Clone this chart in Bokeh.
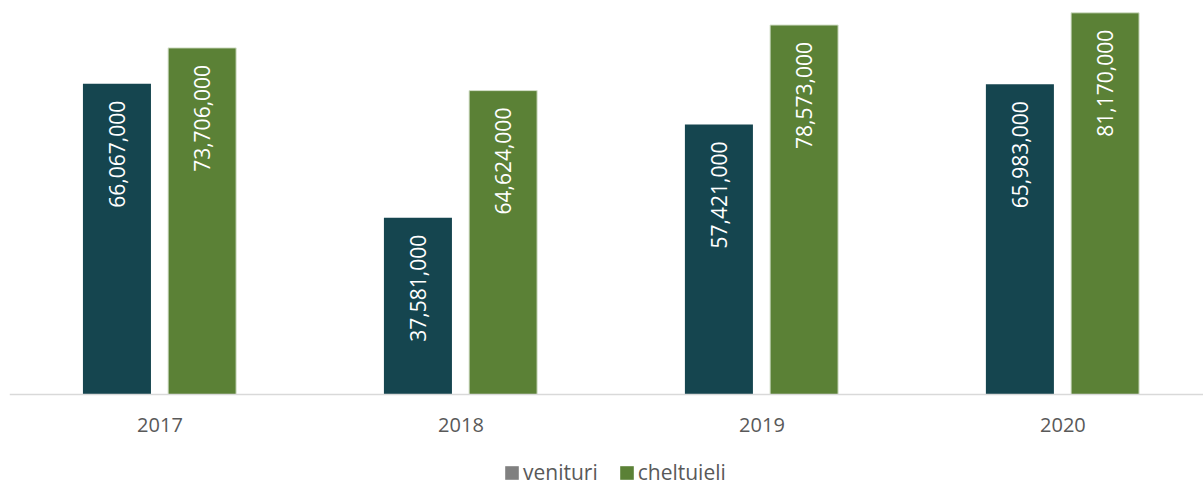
from bokeh.plotting import figure
from bokeh.models import (ColumnDataSource, Range1d, FixedTicker, LabelSet,
                          Legend, LegendItem)
from bokeh.transform import dodge
from bokeh.core.properties import value
from bokeh.embed import file_html
from bokeh.resources import INLINE
import math

years = ["2017", "2018", "2019", "2020"]
venituri = [66067000, 37581000, 57421000, 65983000]
cheltuieli = [73706000, 64624000, 78573000, 81170000]
series_names = ["venituri", "cheltuieli"]

FONT = "Open Sans"
DARK = "#15454f"
GREEN = "#5b8136"
LEGEND_GREY = "#808080"
TEXT = "#595959"

idx = list(range(len(years)))
src = ColumnDataSource(dict(
    x=idx, year=years, ven=venituri, che=cheltuieli,
    ven_lbl=[f"{v:,}" for v in venituri],
    che_lbl=[f"{v:,}" for v in cheltuieli],
))

p = figure(width=1203, height=487, output_backend="svg", toolbar_location=None,
           x_range=Range1d(-0.5, 3.467), y_range=Range1d(-19.777e6, 83.785e6),
           y_axis_location=None, min_border_left=9, min_border_right=0,
           min_border_top=0, min_border_bottom=0)
p.outline_line_color = None
p.xgrid.visible = False
p.ygrid.visible = False
p.background_fill_color = "white"
p.border_fill_color = "white"

W = 0.226
r1 = p.vbar(x=dodge("x", -0.143, range=p.x_range), top="ven", width=W, bottom=0,
            source=src, fill_color=DARK, line_color=None)
r2 = p.vbar(x=dodge("x", 0.140, range=p.x_range), top="che", width=W, bottom=0,
            source=src, fill_color=GREEN, line_color="#d5e0cb", line_width=1)

for off, ycol, lcol in [(-0.143, "ven", "ven_lbl"), (0.140, "che", "che_lbl")]:
    ls = LabelSet(x=dodge("x", off, range=p.x_range), y=ycol, text=lcol, source=src,
                  angle=math.pi / 2, text_align="right", text_baseline="middle",
                  y_offset=-17, text_color="white", text_font=value(FONT),
                  text_font_size="21px")
    p.add_layout(ls)

ax = p.xaxis[0]
ax.fixed_location = 0
ax.ticker = FixedTicker(ticks=idx)
ax.major_label_overrides = {i: y for i, y in zip(idx, years)}
ax.major_tick_line_color = None
ax.minor_tick_line_color = None
ax.major_tick_out = 0
ax.major_tick_in = 0
ax.axis_line_color = "#d9d9d9"
ax.axis_line_width = 1.5
ax.major_label_text_color = TEXT
ax.major_label_text_font = FONT
ax.major_label_text_font_size = "20px"
ax.major_label_standoff = 24

# legend swatches (non-drawing renderers carrying the legend colours)
nodraw = ColumnDataSource(dict(x=[0], top=[float("nan")]))
lr1 = p.vbar(x="x", top="top", width=0.1, source=nodraw, fill_color=LEGEND_GREY, line_color=None)
lr2 = p.vbar(x="x", top="top", width=0.1, source=nodraw, fill_color=GREEN, line_color=None)
legend = Legend(items=[LegendItem(label=series_names[0], renderers=[lr1]),
                       LegendItem(label=series_names[1], renderers=[lr2])],
                orientation="horizontal", location=(494, 1),
                glyph_width=17, glyph_height=17, label_standoff=3, spacing=20,
                label_text_font=FONT, label_text_font_size="21px",
                label_text_color=TEXT, border_line_color=None,
                background_fill_alpha=0, padding=0, margin=0)
p.add_layout(legend, "center")

open("out.html", "w").write(file_html(p, INLINE))
